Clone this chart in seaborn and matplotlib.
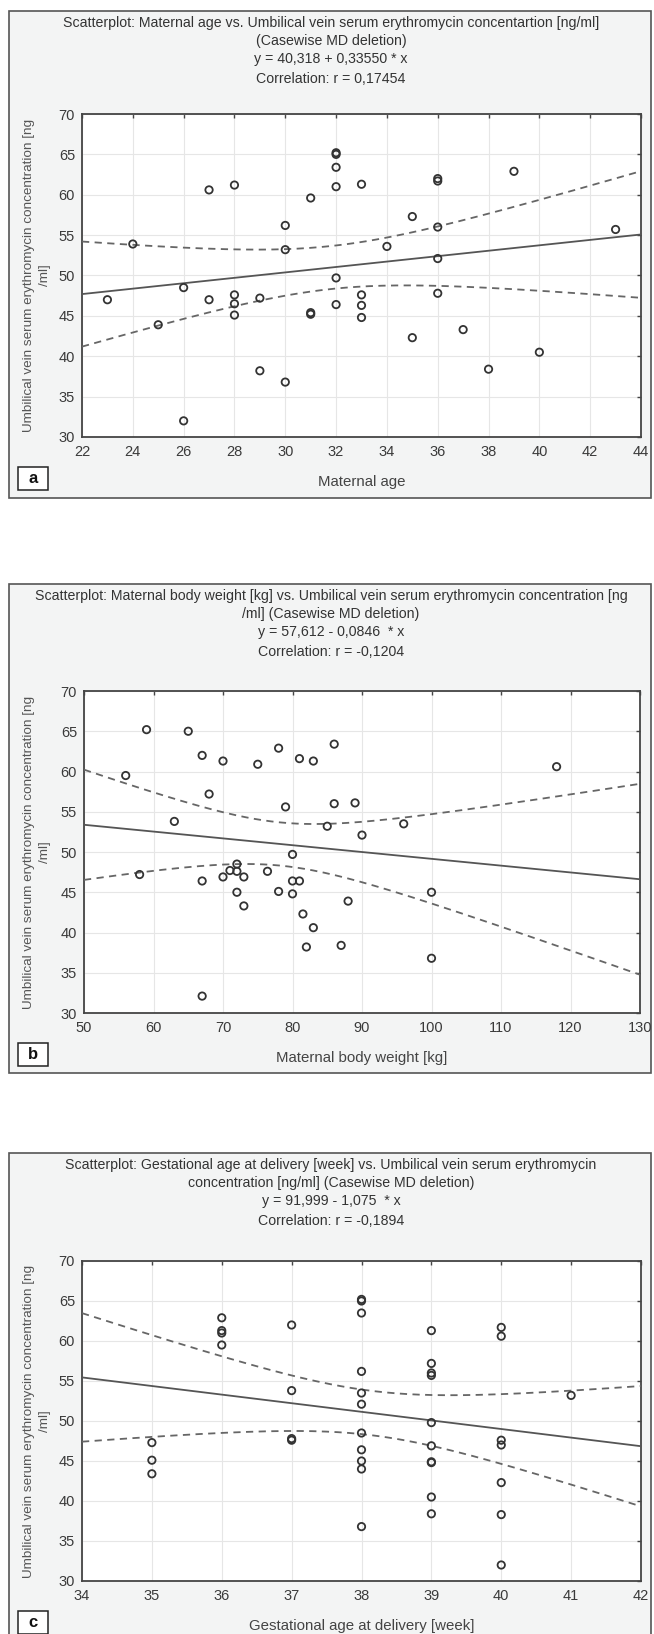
import numpy as np
import pandas as pd
import seaborn as sns
import matplotlib.pyplot as plt
from matplotlib.patches import Rectangle

W, H = 654, 1634

# panel a: maternal age
age_x = [23, 24, 25, 26, 26, 27, 27, 28, 28, 28, 28, 29, 29, 30, 30, 30, 31, 31, 31,
         32, 32, 32, 32, 32, 32, 33, 33, 33, 33, 34, 35, 35, 36, 36, 36, 36, 36,
         37, 38, 39, 40, 43]
age_y = [47.0, 53.9, 43.9, 48.5, 32.0, 60.6, 47.0, 61.2, 47.6, 46.5, 45.1, 47.2, 38.2,
         56.2, 53.2, 36.8, 59.6, 45.2, 45.4, 65.2, 65.0, 63.4, 61.0, 49.7, 46.4,
         61.3, 47.6, 46.3, 44.8, 53.6, 57.3, 42.3, 62.0, 61.7, 56.0, 52.1, 47.8,
         43.3, 38.4, 62.9, 40.5, 55.7]

# panel b: maternal body weight
weight_x = [59, 56, 58, 63, 65, 67, 67, 67, 68, 70, 70, 71, 72, 72, 72, 73, 73, 75, 76.4,
            78, 78, 79, 80, 80, 80, 81, 81, 81.5, 82, 83, 83, 85, 86, 86, 87, 88, 89,
            90, 96, 100, 100, 118]
weight_y = [65.2, 59.5, 47.2, 53.8, 65.0, 62.0, 46.4, 32.1, 57.2, 61.3, 46.9, 47.7, 48.5,
            47.6, 45.0, 46.9, 43.3, 60.9, 47.6, 62.9, 45.1, 55.6, 49.7, 46.4, 44.8,
            46.4, 61.6, 42.3, 38.2, 61.3, 40.6, 53.2, 63.4, 56.0, 38.4, 43.9, 56.1,
            52.1, 53.5, 45.0, 36.8, 60.6]

# panel c: gestational age
ga_x = [35, 35, 35, 36, 36, 36, 36, 37, 37, 37, 37,
        38, 38, 38, 38, 38, 38, 38, 38, 38, 38, 38,
        39, 39, 39, 39, 39, 39, 39, 39, 39, 39,
        40, 40, 40, 40, 40, 40, 40, 41]
ga_y = [47.3, 45.1, 43.4, 62.9, 61.3, 61.0, 59.5, 62.0, 53.8, 47.8, 47.6,
        65.2, 65.0, 63.5, 56.2, 53.5, 52.1, 48.5, 46.4, 45.0, 44.0, 36.8,
        61.3, 57.2, 56.0, 55.7, 49.8, 46.9, 44.9, 44.8, 40.5, 38.4,
        61.7, 60.6, 47.6, 47.0, 42.3, 38.3, 32.0, 53.2]

y_ticks = [30, 35, 40, 45, 50, 55, 60, 65, 70]
age_ticks = list(range(22, 45, 2))
weight_ticks = list(range(50, 131, 10))
ga_ticks = list(range(34, 43))

intercepts = [40.318, 57.612, 91.999]
slopes = [0.33550, -0.0846, -1.075]

titles = [
    "Scatterplot: Maternal age vs. Umbilical vein serum erythromycin concentartion [ng/ml]\n(Casewise MD deletion)",
    "Scatterplot: Maternal body weight [kg] vs. Umbilical vein serum erythromycin concentration [ng\n/ml] (Casewise MD deletion)",
    "Scatterplot: Gestational age at delivery [week] vs. Umbilical vein serum erythromycin\nconcentration [ng/ml] (Casewise MD deletion)",
]
equations = ["y = 40,318 + 0,33550 * x", "y = 57,612 - 0,0846  * x", "y = 91,999 - 1,075  * x"]
correlations = ["Correlation: r = 0,17454", "Correlation: r = -0,1204", "Correlation: r = -0,1894"]
x_labels = ["Maternal age", "Maternal body weight [kg]", "Gestational age at delivery [week]"]
letters = ["a", "b", "c"]
y_label = "Umbilical vein serum erythromycin concentration [ng\n/ml]"

# layout in pixels
boxes = [(11, 498), (584, 1073), (1153, 1645)]
plots = [(82, 114, 641, 437), (84, 691, 640, 1013), (82, 1261, 641, 1581)]

PANEL_BG = "#f3f4f4"
DARK = "#3a3a3a"
TITLE_FS = 10.2


def fx(px):
    return px / W


def fy(py):
    return 1 - py / H


def draw_panel(fig, x, y, xticks, a, b, box, plot, title, eq, corr, xlabel, letter):
    top, bottom = box
    fig.add_artist(Rectangle((fx(9), fy(bottom)), fx(651) - fx(9), (bottom - top) / H,
                             transform=fig.transFigure, facecolor=PANEL_BG,
                             edgecolor="#555555", lw=1.2, zorder=0))
    l, t, r, bt = plot
    ax = fig.add_axes([fx(l), fy(bt), (r - l) / W, (bt - t) / H])
    ax.set_facecolor("white")

    df = pd.DataFrame({"x": x, "y": y})
    sns.scatterplot(data=df, x="x", y="y", ax=ax, s=28, marker="o",
                    edgecolor="#333333", linewidth=1.3, zorder=4)
    ax.collections[-1].set_facecolor("none")

    # fitted line and 95% confidence band
    xa, ya = np.asarray(x, float), np.asarray(y, float)
    n = len(xa)
    xs = np.linspace(xticks[0], xticks[-1], 200)
    fit = a + b * xs
    s = np.sqrt(((ya - (a + b * xa)) ** 2).sum() / (n - 2))
    sxx = ((xa - xa.mean()) ** 2).sum()
    hw = 2.02 * s * np.sqrt(1 / n + (xs - xa.mean()) ** 2 / sxx)
    sns.lineplot(x=xs, y=fit, ax=ax, color="#555555", lw=1.3, zorder=3)
    sns.lineplot(x=xs, y=fit + hw, ax=ax, color="#666666", lw=1.3, linestyle=(0, (4, 3)), zorder=3)
    sns.lineplot(x=xs, y=fit - hw, ax=ax, color="#666666", lw=1.3, linestyle=(0, (4, 3)), zorder=3)

    ax.set_xlim(xticks[0], xticks[-1])
    ax.set_ylim(30, 70)
    ax.set_xticks(xticks)
    ax.set_yticks(y_ticks)
    ax.grid(True, color="#e6e6e6", lw=0.8)
    ax.set_axisbelow(True)
    for sp in ax.spines.values():
        sp.set_color("#444444")
        sp.set_linewidth(1.3)
    ax.tick_params(axis="both", which="both", direction="in", length=3, width=1,
                   color="#444444", top=True, right=True, labelsize=10.5,
                   labelcolor=DARK)
    ax.tick_params(axis="x", pad=6)
    ax.tick_params(axis="y", pad=5)
    ax.set_xlabel("")
    ax.set_ylabel("")

    cx = fx(331)
    fig.text(cx, fy(top + 21), title, ha="center", va="center", fontsize=TITLE_FS,
             color="#333333", linespacing=1.4)
    fig.text(cx, fy(top + 48), eq, ha="center", va="center", fontsize=TITLE_FS, color="#333333")
    fig.text(cx, fy(top + 68), corr, ha="center", va="center", fontsize=TITLE_FS, color="#333333")

    fig.text(fx(37), fy((t + bt) / 2), y_label, rotation=90, ha="center", va="center",
             fontsize=9.7, color="#555555", linespacing=1.4)
    fig.text(fx((l + r) / 2), fy(bt + 45), xlabel, ha="center", va="center",
             fontsize=10.8, color="#444444")

    fig.add_artist(Rectangle((fx(18), fy(bt + 53)), fx(48) - fx(18), 23 / H,
                             transform=fig.transFigure, facecolor="white",
                             edgecolor="#222222", lw=1.1, zorder=2))
    fig.text(fx(33), fy(bt + 41.5), letter, ha="center", va="center", fontsize=12,
             fontweight="bold", color="#111111")
    return ax


sns.set_theme(style="white")
plt.rcParams["font.family"] = ["Liberation Sans", "DejaVu Sans"]

fig = plt.figure(figsize=(W / 100, H / 100), dpi=100)
fig.patch.set_facecolor("white")

data = [(age_x, age_y, age_ticks), (weight_x, weight_y, weight_ticks), (ga_x, ga_y, ga_ticks)]
for i, (xv, yv, xt) in enumerate(data):
    draw_panel(fig, xv, yv, xt, intercepts[i], slopes[i], boxes[i], plots[i],
               titles[i], equations[i], correlations[i], x_labels[i], letters[i])

fig.savefig("out.png", dpi=100, facecolor="white")
